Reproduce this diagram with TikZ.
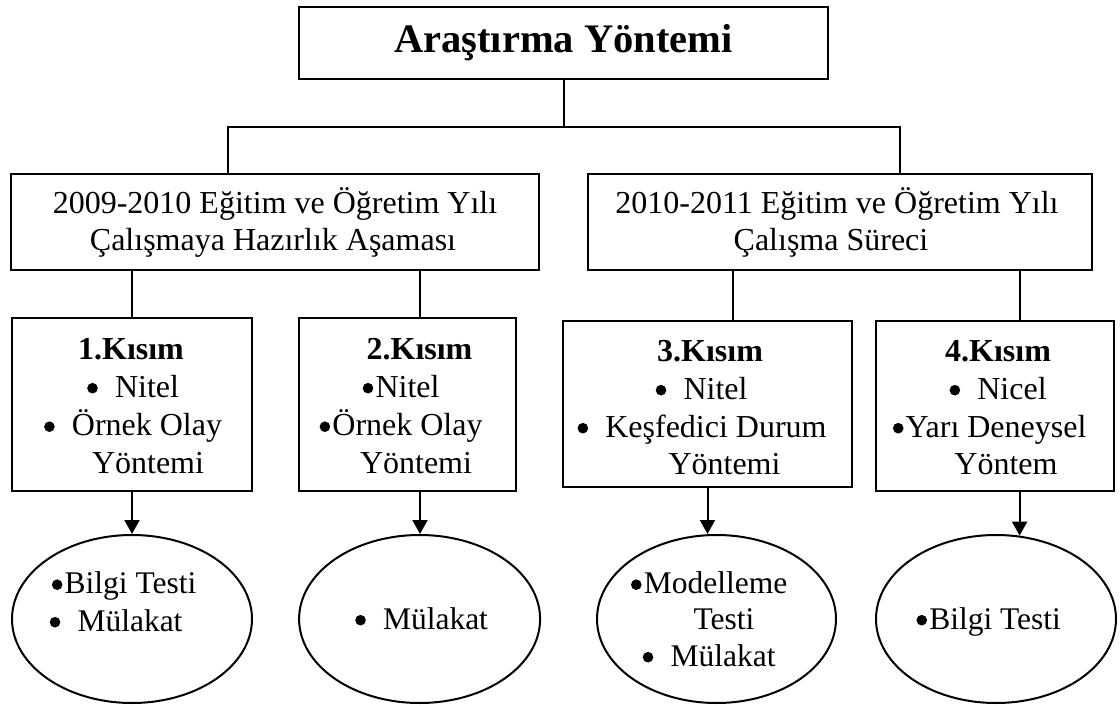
\documentclass[tikz,border=0pt]{standalone}
\usepackage{fontspec}
\setmainfont{Liberation Serif}
\usetikzlibrary{arrows.meta,shapes.geometric}
% round list bullet sitting at mid x-height
\newcommand{\bul}{\tikz[baseline=0pt]{\path (0pt,0pt) (15pt,0pt);\fill (7.5pt,8.8pt) circle[radius=5.3pt];}}
\newcommand{\bgap}{\hspace{15pt}}
\begin{document}
\begin{tikzpicture}[x=1pt,y=-1pt,
  frame/.style={draw,line width=2pt,rectangle,inner sep=0pt},
  oval/.style={draw,line width=2pt,ellipse,inner sep=0pt},
  txt/.style={anchor=base,inner sep=0pt,font=\fontsize{32}{37}\selectfont},
  otxt/.style={anchor=base,inner sep=0pt,font=\fontsize{31.5}{37}\selectfont},
  head/.style={txt,font=\fontsize{32}{37}\selectfont\bfseries},
  ttl/.style={anchor=base,inner sep=0pt,font=\fontsize{40.5}{45}\selectfont\bfseries},
  link/.style={line width=2pt},
  arr/.style={line width=2pt,-{Triangle[width=15pt,length=14pt]}}]
\useasboundingbox (0,0) rectangle (1120,706);

% boxes
\node[frame,minimum width=529,minimum height=72] (top) at (563.5,43) {};
\node[frame,minimum width=528,minimum height=96] (A) at (275.2,222) {};
\node[frame,minimum width=504,minimum height=96] (B) at (840,222) {};
\node[frame,minimum width=240,minimum height=173] (k1) at (132,404.5) {};
\node[frame,minimum width=217,minimum height=173] (k2) at (407.5,404.5) {};
\node[frame,minimum width=289,minimum height=166] (k3) at (707.5,404) {};
\node[frame,minimum width=238,minimum height=170] (k4) at (995,406) {};

% ellipses
\node[oval,minimum width=240,minimum height=168] (e1) at (132,619) {};
\node[oval,minimum width=241,minimum height=168] (e2) at (419.6,619) {};
\node[oval,minimum width=239,minimum height=168] (e3) at (716.5,619) {};
\node[oval,minimum width=240,minimum height=168] (e4) at (996,619) {};

% tree connectors
\coordinate (hub) at (563.5,127);
\coordinate (busL) at (228,127);
\coordinate (busR) at (900,127);
\coordinate (d2) at (420,0);
\coordinate (d3) at (732.5,0);
\coordinate (d4) at (1019.6,0);
\draw[link] (top.south) -- (hub);
\draw[link] (A.north -| busL) -- (busL) -- (busR) -- (B.north -| busR);
\draw[link] (A.south -| k1.north) -- (k1.north);
\draw[link] (A.south -| d2) -- (k2.north -| d2);
\draw[link] (B.south -| d3) -- (k3.north -| d3);
\draw[link] (B.south -| d4) -- (k4.north -| d4);

% arrows to the ellipses
\draw[arr] (k1.south) -- (e1.north);
\draw[arr] (k2.south -| d2) -- (e2.north -| d2);
\draw[arr] (k3.south) -- (k3.south |- e3.north);
\draw[arr] (k4.south -| d4) -- ([yshift=-1.6pt]e4.north -| d4);

% texts
\node[ttl] (t0) at (563.5,53) {Araştırma Yöntemi};
\node[txt] (a1) at (275,214) {2009-2010 Eğitim ve Öğretim Yılı};
\node[txt] (a2) at (273,251) {Çalışmaya Hazırlık Aşaması};
\node[txt] (b1) at (837,214) {2010-2011 Eğitim ve Öğretim Yılı};
\node[txt] (b2) at (831,251) {Çalışma Süreci};

\node[head] (p1) at (131,359) {1.Kısım};
\node[txt] (p1a) at (132,397) {\bul\bgap Nitel};
\node[txt] (p1b) at (132,435.5) {\bul\bgap Örnek Olay};
\node[txt] (p1c) at (148,473) {Yöntemi};

\node[head] (p2) at (419.5,359) {2.Kısım};
\node[txt] (p2a) at (400,397) {\bul Nitel};
\node[txt] (p2b) at (400,435.5) {\bul Örnek Olay};
\node[txt] (p2c) at (416,473) {Yöntemi};

\node[head] (p3) at (710,361) {3.Kısım};
\node[txt] (p3a) at (700.5,399) {\bul\bgap Nitel};
\node[txt] (p3b) at (701,437) {\bul\bgap Keşfedici Durum};
\node[txt] (p3c) at (724.5,474) {Yöntemi};

\node[head] (p4) at (998,361) {4.Kısım};
\node[txt] (p4a) at (997,399) {\bul\bgap Nicel};
\node[txt] (p4b) at (988.6,437) {\bul Yarı Deneysel};
\node[txt] (p4c) at (1006,474) {Yöntem};

\node[otxt] (q1a) at (123,593.5) {\bul Bilgi Testi};
\node[otxt] (q1b) at (115,631) {\bul\bgap Mülakat};
\node[otxt] (q2a) at (420.5,629) {\bul\bgap Mülakat};
\node[otxt] (q3a) at (708,593.5) {\bul Modelleme};
\node[otxt] (q3b) at (724,629.5) {Testi};
\node[otxt] (q3c) at (708,666) {\bul\bgap Mülakat};
\node[otxt] (q4a) at (987.6,629) {\bul Bilgi Testi};
\end{tikzpicture}
\end{document}
